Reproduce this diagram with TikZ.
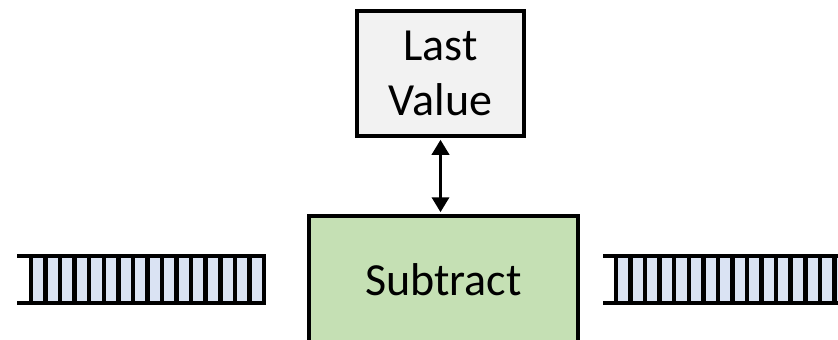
\documentclass[tikz,border=0pt]{standalone}
\usepackage{fontspec}
\setmainfont{Carlito}
\usetikzlibrary{arrows.meta}
\definecolor{cellblue}{HTML}{DAE3F3}
\definecolor{boxgray}{HTML}{F2F2F2}
\definecolor{boxgreen}{HTML}{C5E0B4}
\tikzset{
  block/.style={draw=black, line width=4.5pt, inner sep=0pt,
    font=\fontsize{46}{55}\selectfont, align=center},
  link/.style={line width=3.5pt, {Triangle[width=17pt,length=15pt]}-{Triangle[width=17pt,length=15pt]},
    shorten <=1.5pt, shorten >=1.5pt},
  rail/.style={line width=4.5pt},
  slot/.style={line width=4.5pt}
}
% a queue of cells: #1 = x where the rails start, #2 = x of the first divider
\newcommand{\cellqueue}[2]{%
  \fill[cellblue] (#2,256) rectangle ({#2+16*14.56},303);
  \draw[rail] (#1,256) -- ({#2+16*14.56+2},256);
  \draw[rail] (#1,303) -- ({#2+16*14.56+2},303);
  \foreach \i in {0,...,16}{
    \draw[slot] ({#2+\i*14.56},256) -- ({#2+\i*14.56},303);
  }%
}
\begin{document}
\begin{tikzpicture}[x=1pt,y=-1pt]
\useasboundingbox (0,0) rectangle (838,340);
\clip (0,0) rectangle (838,340);

% input and output queues
\cellqueue{17}{31}
\cellqueue{603}{616}

% state and operator blocks
\node[block, fill=boxgray, minimum width=167pt, minimum height=125pt] (last) at (440.5,73.5) {Last\\Value};
\node[block, fill=boxgreen, minimum width=269pt, minimum height=128pt] (sub) at (443.5,280) {Subtract};

% two-way link between them
\draw[link] (last.south) -- (last.south |- sub.north);
\end{tikzpicture}
\end{document}
